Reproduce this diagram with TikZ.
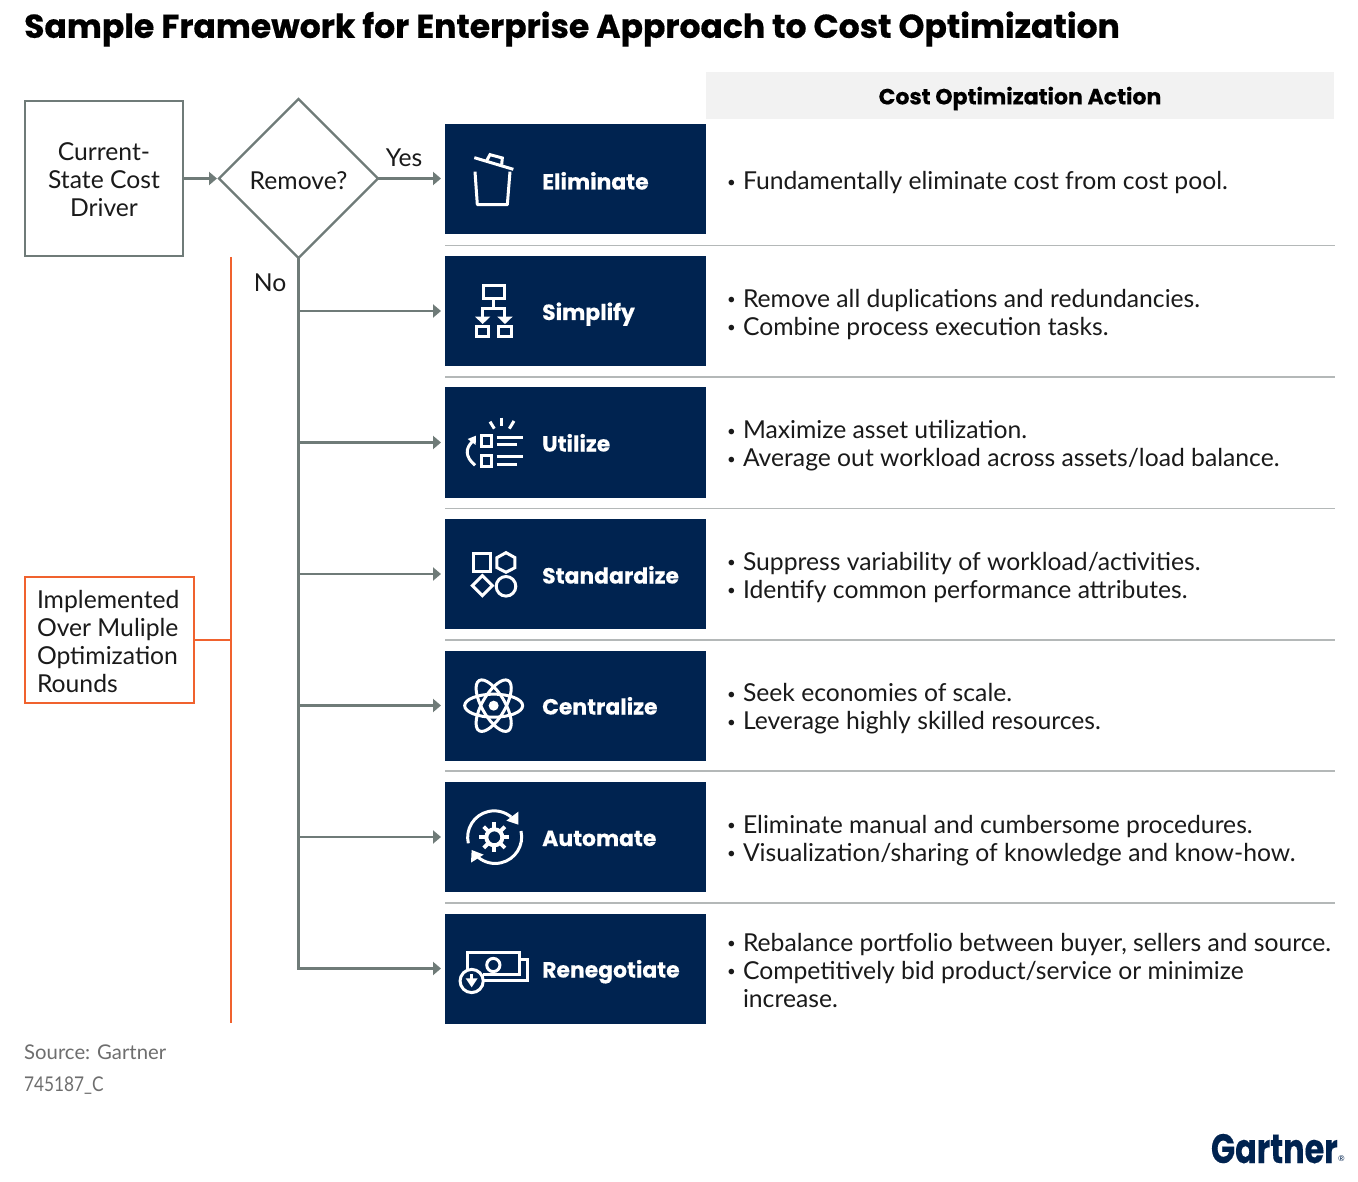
\documentclass[tikz,border=0pt]{standalone}
\usepackage{fontspec}
\usetikzlibrary{arrows.meta,shapes.geometric}
\setmainfont{Lato}
\newfontfamily\headfont[BoldFeatures={FakeBold=0.25}]{Poppins}
\newfontfamily\titlefont[BoldFeatures={FakeBold=0.5}]{Poppins}
\definecolor{navy}{HTML}{002350}
\definecolor{flow}{HTML}{6F7B78}
\definecolor{orangeline}{HTML}{F0622E}
\definecolor{sepline}{HTML}{B4B8B8}
\definecolor{headbg}{HTML}{F2F2F2}
\definecolor{inktext}{HTML}{1A1A1A}
\definecolor{srctext}{HTML}{6E6E6E}
\newcommand{\bl}[1]{\makebox[18pt][l]{\hspace{2pt}\fontsize{15}{15}\selectfont\raisebox{2.5pt}{\textbullet}}#1}
\tikzset{
  body/.style={font=\fontsize{24.7}{28}\selectfont,text=inktext,inner sep=0pt,outer sep=0pt},
  actbox/.style={fill=navy,draw=none,minimum width=261pt,minimum height=110pt,inner sep=0pt,outer sep=0pt},
  actlabel/.style={anchor=base west,font=\headfont\bfseries\fontsize{21.9}{26}\selectfont,text=white,inner sep=0pt},
  bullets/.style={body,anchor=west,align=left},
  sep/.style={draw=sepline,line width=1.3pt},
  flowline/.style={draw=flow,line width=2.2pt},
  arr/.style={flowline,-{Triangle[length=8pt,width=13pt]}},
  arrbox/.style={arr,shorten >=4pt},
  orangeln/.style={draw=orangeline,line width=2.2pt},
  icon/.style={draw=white,line width=3pt,fill=none,line join=miter},
  src/.style={anchor=west,font=\fontsize{20.3}{24}\selectfont,text=srctext,inner sep=0pt}
}
\begin{document}
\begin{tikzpicture}[x=1pt,y=-1pt]
\useasboundingbox (0,0) rectangle (1358,1182);
\fill[white] (0,0) rectangle (1358,1182);

\node (title) [anchor=west,inner sep=0pt,font=\titlefont\bfseries\fontsize{33}{36}\selectfont,text=black] at (24,29) {Sample Framework for Enterprise Approach to Cost Optimization};

\node (headbar) [fill=headbg,minimum width=628pt,minimum height=47pt,inner sep=0pt,anchor=north west] at (706,72) {};
\node (headtext) [font=\headfont\bfseries\fontsize{22}{26}\selectfont,text=black,inner sep=0pt] at (1020,98.5) {Cost Optimization Action};

\node (driver) [draw=flow,line width=2.2pt,minimum width=158pt,minimum height=155pt,inner sep=0pt,outer sep=0pt] at (104,178.5) {};
\node (drivertext) [body,align=center] at (104,180) {Current-\\State Cost\\Driver};
\node (decide) [diamond,aspect=1,draw=flow,line width=2.2pt,minimum width=159pt,minimum height=159pt,inner sep=0pt,outer sep=0pt] at (298.5,178.5) {};
\node (decidetext) [body] at (298.5,180.5) {Remove?};
\node (yes) [body] at (404,158) {Yes};
\node (no) [body] at (270,283) {No};

\node (b1) [actbox] at (575.5,179.5) {};
\node (b2) [actbox] at (575.5,311) {};
\node (b3) [actbox] at (575.5,442.5) {};
\node (b4) [actbox] at (575.5,574) {};
\node (b5) [actbox] at (575.5,705.5) {};
\node (b6) [actbox] at (575.5,837) {};
\node (b7) [actbox] at (575.5,968.5) {};

\node (l1) [actlabel] at (542,189.5) {Eliminate};
\node (l2) [actlabel] at (542,320) {Simplify};
\node (l3) [actlabel] at (542,451.5) {Utilize};
\node (l4) [actlabel] at (542,583.5) {Standardize};
\node (l5) [actlabel] at (542,714.5) {Centralize};
\node (l6) [actlabel] at (542,846) {Automate};
\node (l7) [actlabel] at (542,977.5) {Renegotiate};

\node (t1) [bullets] at (725,183) {\bl{Fundamentally eliminate cost from cost pool.}};
\node (t2) [bullets] at (725,314.5) {\bl{Remove all duplications and redundancies.}\\\bl{Combine process execution tasks.}};
\node (t3) [bullets] at (725,446) {\bl{Maximize asset utilization.}\\\bl{Average out workload across assets/load balance.}};
\node (t4) [bullets] at (725,577.5) {\bl{Suppress variability of workload/activities.}\\\bl{Identify common performance attributes.}};
\node (t5) [bullets] at (725,709) {\bl{Seek economies of scale.}\\\bl{Leverage highly skilled resources.}};
\node (t6) [bullets] at (725,840.5) {\bl{Eliminate manual and cumbersome procedures.}\\\bl{Visualization/sharing of knowledge and know-how.}};
\node (t7) [bullets] at (725,970) {\bl{Rebalance portfolio between buyer, sellers and source.}\\\bl{Competitively bid product/service or minimize}\\\makebox[18pt]{}increase.};

\coordinate (s1a) at (445,245.5); \coordinate (s1b) at (1335,245.5);
\coordinate (s2a) at (445,377); \coordinate (s2b) at (1335,377);
\coordinate (s3a) at (445,508.5); \coordinate (s3b) at (1335,508.5);
\coordinate (s4a) at (445,640); \coordinate (s4b) at (1335,640);
\coordinate (s5a) at (445,771); \coordinate (s5b) at (1335,771);
\coordinate (s6a) at (445,903); \coordinate (s6b) at (1335,903);
\draw[sep] (s1a) -- (s1b);
\draw[sep] (s2a) -- (s2b);
\draw[sep] (s3a) -- (s3b);
\draw[sep] (s4a) -- (s4b);
\draw[sep] (s5a) -- (s5b);
\draw[sep] (s6a) -- (s6b);

\draw[arr,shorten >=2pt] (driver.east) -- (decide.west);
\draw[arrbox] (decide.east) -- (decide.east -| b1.west);
\draw[arrbox] (decide.south) |- (b2.west);
\draw[arrbox] (decide.south) |- (b3.west);
\draw[arrbox] (decide.south) |- (b4.west);
\draw[arrbox] (decide.south) |- (b5.west);
\draw[arrbox] (decide.south) |- (b6.west);
\draw[arrbox] (decide.south) |- (b7.west);

\node (rounds) [draw=orangeline,line width=2.2pt,minimum width=169pt,minimum height=126pt,inner sep=0pt,outer sep=0pt,anchor=north west] at (25,577) {};
\node (roundstext) [body,anchor=west,align=left] at (37,641) {Implemented\\Over Muliple\\Optimization\\Rounds};
\coordinate (otop) at (231,257);
\coordinate (obot) at (231,1023);
\coordinate (omid) at (231,640);
\draw[orangeln] (otop) -- (obot);
\draw[orangeln] (rounds.east |- omid) -- (omid);

\node (source) [src] at (24,1052) {Source: Gartner};
\node (code) [src] at (24,1086) {\scalebox{0.85}[1]{745187\_C}};
\node (logo) [anchor=base east,inner sep=0pt,font=\headfont\fontsize{41}{44}\selectfont,text=navy] at (1338,1163) {\scalebox{0.775}[1]{\bfseries Gartner}};
\node (reg) [anchor=west,inner sep=0pt,font=\fontsize{8}{8}\selectfont,text=navy] at (1338,1159) {®};

% Eliminate icon
\begin{scope}[shift={(445,120)},x=0.3333pt,y=-0.3333pt,icon]
\draw (88,113) -- (205,148);
\draw (125,122) -- (135,104) -- (172,114) -- (170,134);
\draw[line join=round] (90,155) -- (97,254) -- (187,254) -- (195,155);
\end{scope}
% Simplify icon
\begin{scope}[shift={(445,120)},x=0.3333pt,y=-0.3333pt,icon]
\draw (115,497) rectangle (178,535);
\draw (146,535) -- (146,565);
\draw (113,600) -- (113,565) -- (180,565) -- (180,600);
\fill[white] (90,590) -- (136,590) -- (113,612) -- cycle;
\fill[white] (157,590) -- (203,590) -- (180,612) -- cycle;
\draw (93,619) rectangle (131,650);
\draw (161,619) rectangle (200,650);
\end{scope}
% Utilize icon
\begin{scope}[shift={(445,385)},x=0.3333pt,y=-0.3333pt,icon]
\draw (135,110) -- (148,131);
\draw (170,98) -- (170,124);
\draw (207,108) -- (193,131);
\draw (110,153) rectangle (140,186);
\draw (110,213) rectangle (140,245);
\draw (155,158) -- (233,158);
\draw (155,178) -- (215,178);
\draw (155,216) -- (233,216);
\draw (155,238) -- (215,238);
\draw (90,241) .. controls (60,215) and (60,190) .. (84,168);
\fill[white] (68,162) -- (93,152) -- (92,180) -- cycle;
\end{scope}
% Standardize icon
\begin{scope}[shift={(445,385)},x=0.3333pt,y=-0.3333pt,icon]
\draw (85,507) rectangle (137,560);
\draw (183,503) -- (210,518) -- (210,548) -- (183,562) -- (156,548) -- (156,518) -- cycle;
\draw (112,572) -- (142,602) -- (112,632) -- (82,602) -- cycle;
\draw (183,604) circle[radius=9.8pt];
\end{scope}
% Centralize icon
\begin{scope}[shift={(445,650)},x=0.3333pt,y=-0.3333pt,icon]
\draw (146,167) ellipse[x radius=29pt,y radius=11.5pt];
\draw[rotate around={60:(146,167)}] (146,167) ellipse[x radius=29pt,y radius=11.5pt];
\draw[rotate around={-60:(146,167)}] (146,167) ellipse[x radius=29pt,y radius=11.5pt];
\fill[white] (146,167) circle[radius=5pt];
\end{scope}
% Automate icon
\begin{scope}[shift={(445,650)},x=0.3333pt,y=-0.3333pt,icon]
\foreach \a in {0,45,...,315}{
  \draw[line width=3.8pt] (148,562) ++(\a:9pt) -- ++(\a:6pt);
}
\draw[line width=4pt] (148,562) circle[radius=8pt];
\draw (70,580) arc[start angle=193,end angle=50,radius=26.5pt];
\fill[white] (220,485) -- (220,524) -- (184,512) -- cycle;
\draw (228,543) arc[start angle=13,end angle=-130,radius=26.5pt];
\fill[white] (78,638) -- (80,600) -- (116,614) -- cycle;
\end{scope}
% Renegotiate icon
\begin{scope}[shift={(445,910)},x=0.3333pt,y=-0.3333pt,icon]
\draw (68,190) -- (68,127) -- (225,127) -- (225,195) -- (115,195);
\draw (225,148) -- (247,148) -- (247,212) -- (115,212);
\draw (145,165) circle[radius=6.6pt];
\draw[fill=navy] (80,213) circle[radius=11.6pt];
\draw (80,192) -- (80,215);
\fill[white] (62,205) -- (98,205) -- (80,232) -- cycle;
\end{scope}
\end{tikzpicture}
\end{document}
